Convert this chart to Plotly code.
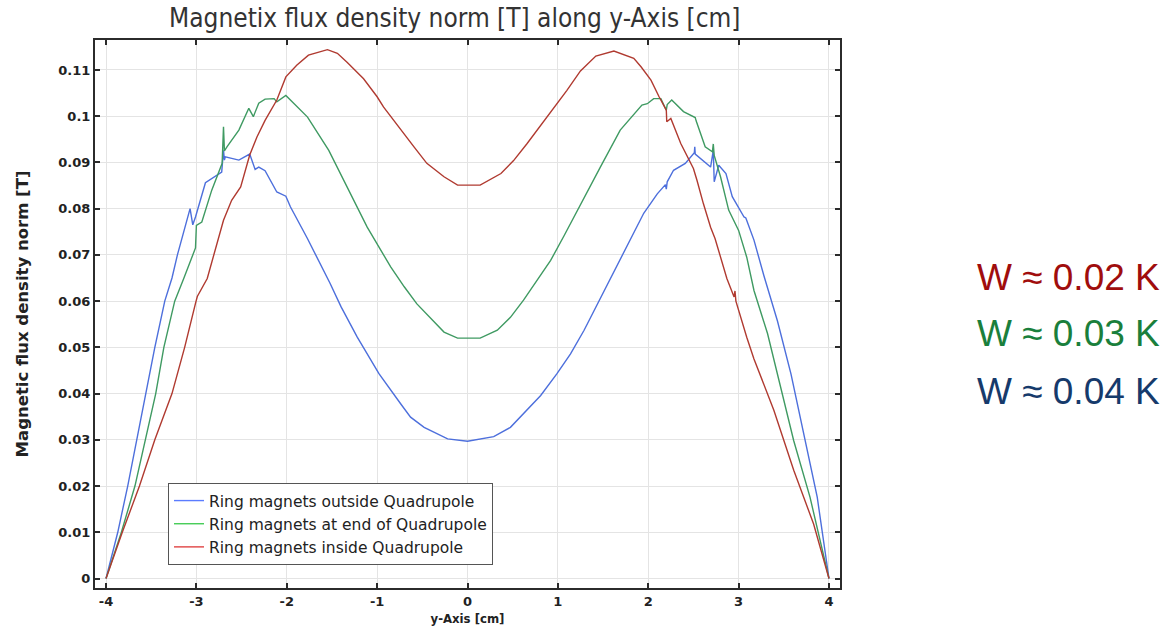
import plotly.graph_objects as go

# ---------------- data ----------------
x_outside = [-4.0, -3.87, -3.76, -3.66, -3.56, -3.46, -3.35, -3.27, -3.21, -3.10, -3.07, -3.04, -3.01,
             -2.90, -2.80, -2.72, -2.70, -2.69, -2.68, -2.53, -2.41, -2.35, -2.31, -2.24, -2.11, -2.01,
             -1.96, -1.77, -1.52, -1.40, -1.22, -0.98, -0.74, -0.63, -0.48, -0.22, 0.0, 0.29, 0.475, 0.62,
             0.81, 0.99, 1.14, 1.29, 1.42, 1.55,
             1.80, 1.95, 2.10, 2.19, 2.20, 2.21, 2.28, 2.41, 2.51, 2.515, 2.52, 2.69, 2.72, 2.73, 2.78,
             2.86, 2.93, 3.06, 3.08, 3.17, 3.28, 3.43, 3.58, 3.72, 3.87, 4.0]
y_outside = [0.0, 0.010, 0.020, 0.030, 0.040, 0.050, 0.060, 0.065, 0.070, 0.0775, 0.0800, 0.0765, 0.0782,
             0.0856, 0.0868, 0.0879, 0.0926, 0.0905, 0.0912, 0.0905, 0.0918, 0.0885, 0.0890, 0.0882, 0.0836, 0.0827,
             0.0804, 0.0735, 0.0638, 0.0588, 0.0522, 0.0443, 0.0378, 0.0349, 0.0327, 0.0302, 0.0297, 0.0307, 0.0327, 0.0356,
             0.0396, 0.0443, 0.0486, 0.0537, 0.0587, 0.0638,
             0.0732, 0.0790, 0.0832, 0.0852, 0.0842, 0.0858, 0.0883, 0.0898, 0.0921, 0.0934, 0.0918, 0.0890, 0.0926, 0.0858, 0.0894,
             0.0876, 0.0826, 0.0782, 0.0780, 0.0732, 0.0655, 0.0557, 0.0442, 0.0313, 0.0176, 0.0]

x_end = [-4.0, -3.83, -3.68, -3.565, -3.45, -3.36, -3.24, -3.14, -3.01, -3.00, -2.94, -2.83, -2.715,
         -2.70, -2.69, -2.66, -2.53, -2.42, -2.37, -2.31, -2.24, -2.14, -2.11, -2.01, -1.77, -1.535,
         -1.35, -1.11, -0.85, -0.70, -0.56, -0.26, -0.11, 0.14, 0.33, 0.475, 0.62, 0.77, 0.92, 1.07, 1.21,
         1.47, 1.69, 1.93,
         1.99, 2.06, 2.14, 2.20, 2.21, 2.26, 2.39, 2.52, 2.53, 2.63, 2.71, 2.72, 2.73, 2.80, 2.89,
         3.00, 3.09, 3.17, 3.32, 3.46, 3.61, 3.79, 4.0]
y_end = [0.0, 0.010, 0.020, 0.030, 0.040, 0.050, 0.060, 0.0649, 0.0715, 0.0764, 0.0771, 0.0840, 0.0898,
         0.0977, 0.0925, 0.0934, 0.0970, 0.1017, 0.0999, 0.1028, 0.1037, 0.1038, 0.1031, 0.1045, 0.0998, 0.0926,
         0.0854, 0.0760, 0.0674, 0.0631, 0.0594, 0.0533, 0.0520, 0.0520, 0.0537, 0.0565, 0.0602, 0.0645, 0.0688, 0.0742, 0.0795,
         0.0890, 0.0970, 0.1024,
         0.1027, 0.1038, 0.1038, 0.1013, 0.1025, 0.1035, 0.1010, 0.0997, 0.0990, 0.0934, 0.0923, 0.0940, 0.0915, 0.0869, 0.0797,
         0.0753, 0.0695, 0.0623, 0.0530, 0.0420, 0.0298, 0.0176, 0.0]

x_inside = [-4.0, -3.82, -3.63, -3.46, -3.27, -3.13, -3.01, -2.99, -2.88, -2.77, -2.70, -2.61, -2.51,
            -2.41, -2.33, -2.24, -2.11, -2.01, -1.89, -1.76, -1.55, -1.44, -1.33, -1.15, -1.00, -0.93, -0.74,
            -0.59, -0.45, -0.26, -0.11, 0.14, 0.37, 0.51, 0.66, 0.81, 0.96, 1.10, 1.25, 1.42, 1.62, 1.84,
            1.92, 2.03, 2.12, 2.20, 2.205,
            2.25, 2.36, 2.50, 2.54, 2.61, 2.69, 2.74, 2.87, 2.95, 2.96, 2.97, 3.09, 3.17, 3.39, 3.61,
            3.83, 4.0]
y_inside = [0.0, 0.010, 0.020, 0.030, 0.040, 0.050, 0.0595, 0.0610, 0.0649, 0.0724, 0.0775, 0.0818, 0.0847,
            0.0916, 0.0955, 0.0991, 0.1035, 0.1085, 0.1110, 0.1132, 0.1144, 0.1136, 0.1116, 0.1081, 0.1042, 0.1020, 0.0970,
            0.0933, 0.0898, 0.0869, 0.0851, 0.0851, 0.0876, 0.0904, 0.0941, 0.0980, 0.1020, 0.1056, 0.1098, 0.1130, 0.1141, 0.1125,
            0.1107, 0.1078, 0.1042, 0.1013, 0.0988,
            0.0995, 0.0941, 0.0887, 0.0861, 0.0811, 0.0760, 0.0735, 0.0649, 0.0609, 0.0622, 0.0600, 0.0522, 0.0475, 0.0364, 0.0234,
            0.0118, 0.0]

series_names = ["Ring magnets outside Quadrupole",
                "Ring magnets at end of Quadrupole",
                "Ring magnets inside Quadrupole"]
line_colors = ["#4d6fdc", "#3f9a62", "#b03a30"]
legend_colors = ["#5b7cff", "#44cc55", "#e04444"]

x_tick_vals = [-4, -3, -2, -1, 0, 1, 2, 3, 4]
x_tick_text = ["-4", "-3", "-2", "-1", "0", "1", "2", "3", "4"]
y_tick_vals = [0, 0.01, 0.02, 0.03, 0.04, 0.05, 0.06, 0.07, 0.08, 0.09, 0.1, 0.11]
y_tick_text = ["0", "0.01", "0.02", "0.03", "0.04", "0.05", "0.06", "0.07", "0.08", "0.09", "0.1", "0.11"]

w_labels = ["W \u2248 0.02 K", "W \u2248 0.03 K", "W \u2248 0.04 K"]
w_colors = ["#a00d0d", "#1a7f3c", "#163a6b"]

# ---------------- figure ----------------
fig = go.Figure()
xs = [x_outside, x_end, x_inside]
ys = [y_outside, y_end, y_inside]
for i in range(3):
    fig.add_trace(go.Scatter(x=xs[i], y=ys[i], mode="lines", showlegend=False,
                             line=dict(color=line_colors[i], width=1.4, shape="linear"), hoverinfo="skip"))
for i in range(3):
    fig.add_trace(go.Scatter(x=[None], y=[None], mode="lines", name=series_names[i],
                             legendgroup=str(i),
                             line=dict(color=legend_colors[i], width=1.4)))

axis_common = dict(showline=True, linecolor="#2b2b2b", linewidth=2, mirror="ticks",
                   ticks="inside", ticklen=5, tickcolor="#2b2b2b", tickwidth=1.5,
                   showgrid=True, gridcolor="#e4e4e4", gridwidth=1, zeroline=False,
                   automargin=False,
                   tickfont=dict(family="DejaVu Sans", size=13, color="#222", weight="bold"))

fig.update_xaxes(range=[-4.122, 4.122], tickvals=x_tick_vals, ticktext=x_tick_text,
                 title=dict(text="y-Axis [cm]", standoff=6,
                            font=dict(family="DejaVu Sans Condensed", size=13, color="#222", weight="bold")),
                 **axis_common)
fig.update_yaxes(range=[-0.00205, 0.11648], tickvals=y_tick_vals, ticktext=y_tick_text,
                 title=dict(text="Magnetic flux density norm [T]", standoff=26,
                            font=dict(family="DejaVu Sans", size=16.5, color="#222", weight="bold")),
                 **axis_common)

annotations = []
w_y = [0.5657, 0.4653, 0.3577]
for i in range(3):
    annotations.append(dict(text=w_labels[i], xref="paper", yref="paper", x=1.432, y=w_y[i],
                            xanchor="right", yanchor="middle", showarrow=False,
                            font=dict(family="Liberation Sans, Arial", size=37, color=w_colors[i])))
fig.update_layout(
    width=1172, height=632,
    margin=dict(l=95, r=332, t=40, b=44),
    paper_bgcolor="white", plot_bgcolor="white",
    title=dict(text="Magnetix flux density norm [T] along y-Axis [cm]", x=0.388, xanchor="center",
               y=0.972, yanchor="middle",
               font=dict(family="DejaVu Sans Condensed", size=26, color="#333")),
    legend=dict(x=0.098, y=0.1916, xanchor="left", yanchor="top", bgcolor="white",
                bordercolor="#555", borderwidth=1, tracegroupgap=0,
                font=dict(family="DejaVu Sans", size=15.5, color="#222")),
    annotations=annotations,
)

fig.write_html("out.html")
